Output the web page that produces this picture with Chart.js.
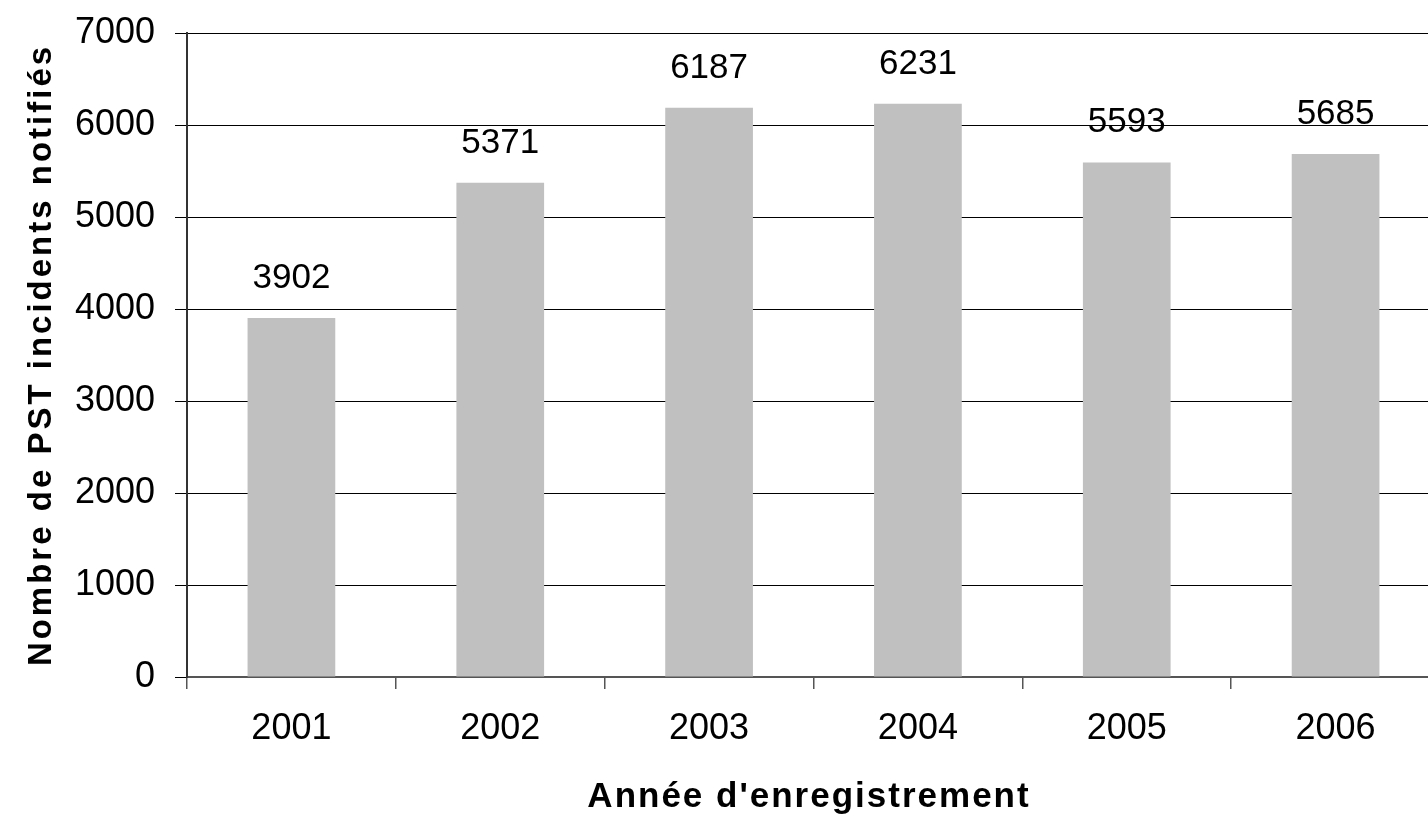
<!DOCTYPE html>
<html>
<head>
<meta charset="utf-8">
<script src="https://cdn.jsdelivr.net/npm/chart.js@4"></script>
<style>
  html, body { margin: 0; padding: 0; overflow: hidden; background: #fff; }
  #wrap { width: 1440px; height: 817px; }
</style>
</head>
<body>
<div id="wrap"><canvas id="pstChart" width="1440" height="817"></canvas></div>
<script>
// data
const years = ["2001", "2002", "2003", "2004", "2005", "2006"];
const incidents = [3902, 5371, 6187, 6231, 5593, 5685];
const yTicks = [0, 1000, 2000, 3000, 4000, 5000, 6000, 7000];

const yTitle = "Nombre de PST incidents notifiés";
const xTitle = "Année d'enregistrement";

const FONT = '"Liberation Sans", Arial, sans-serif';

// values above the bars + axis titles (drawn with letter spacing like the original)
const labelsPlugin = {
    id: "pstLabels",
    afterDatasetsDraw(chart) {
        const ctx = chart.ctx;
        const meta = chart.getDatasetMeta(0);
        ctx.save();
        ctx.font = "35px " + FONT;
        ctx.fillStyle = "#000";
        ctx.textAlign = "center";
        ctx.textBaseline = "alphabetic";
        meta.data.forEach((bar, i) => {
            ctx.fillText(String(incidents[i]), bar.x, bar.y - 30);
        });
        ctx.restore();
    },
    afterDraw(chart) {
        const ctx = chart.ctx;
        const area = chart.chartArea;
        ctx.save();
        ctx.fillStyle = "#000";
        ctx.textAlign = "center";
        ctx.textBaseline = "alphabetic";

        ctx.font = "bold 35px " + FONT;
        ctx.letterSpacing = "2px";
        ctx.fillText(xTitle, 809, 807);

        ctx.font = "bold 33px " + FONT;
        ctx.letterSpacing = "3px";
        ctx.translate(51, (area.top + area.bottom) / 2);
        ctx.rotate(-Math.PI / 2);
        ctx.fillText(yTitle, 0, 0);
        ctx.restore();
    },
};

new Chart(document.getElementById("pstChart"), {
    type: "bar",
    data: {
        labels: years,
        datasets: [
            {
                data: incidents,
                backgroundColor: "#c0c0c0",
                borderWidth: 0,
                barPercentage: 0.42,
                categoryPercentage: 1,
            },
        ],
    },
    options: {
        responsive: false,
        animation: false,
        layout: { padding: { top: 33, left: 0, right: 0, bottom: 0 } },
        plugins: {
            legend: { display: false },
            tooltip: { enabled: false },
        },
        scales: {
            x: {
                offset: true,
                afterFit: (scale) => {
                    scale.height = 140;
                    scale.paddingLeft = 0;
                    scale.paddingRight = 0;
                },
                grid: {
                    offset: true,
                    drawOnChartArea: false,
                    drawTicks: true,
                    tickLength: 12,
                    color: "#555",
                    tickColor: "#555",
                    lineWidth: 1.5,
                },
                border: { color: "#555", width: 2 },
                ticks: {
                    color: "#000",
                    padding: 18,
                    maxRotation: 0,
                    font: { family: FONT, size: 36 },
                },
            },
            y: {
                min: 0,
                max: 7000,
                afterFit: (scale) => {
                    scale.width = 187;
                    scale.paddingTop = 0;
                    scale.paddingBottom = 0;
                },
                afterBuildTicks: (scale) => {
                    scale.ticks = yTicks.map((v) => ({ value: v }));
                },
                grid: {
                    color: "#000",
                    lineWidth: 1,
                    tickLength: 12,
                    tickColor: "#000",
                },
                border: { color: "#333", width: 2 },
                ticks: {
                    color: "#000",
                    padding: 20,
                    font: { family: FONT, size: 36 },
                    callback: (value) => String(value),
                },
            },
        },
    },
    plugins: [labelsPlugin],
});
</script>
</body>
</html>
